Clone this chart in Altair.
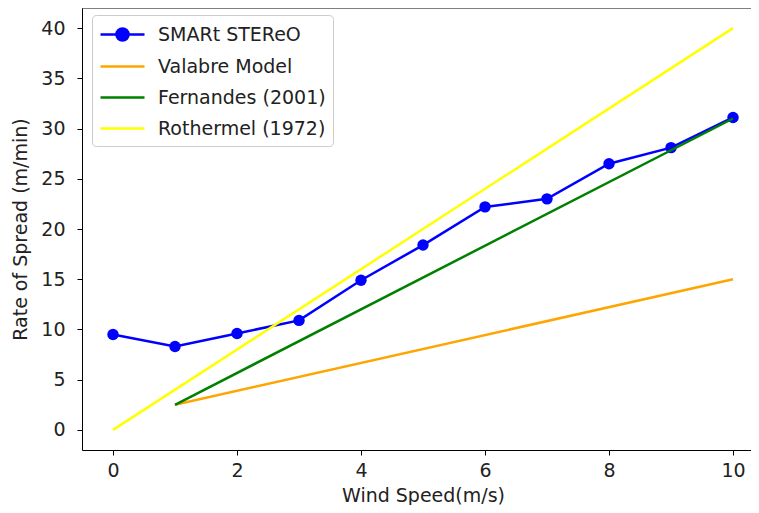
import altair as alt
import pandas as pd

# ---- data ----
wind_speed = [0, 1, 2, 3, 4, 5, 6, 7, 8, 9, 10]
smart_stereo = [9.5, 8.3, 9.6, 10.9, 14.9, 18.4, 22.2, 23.0, 26.5, 28.1, 31.1]

valabre_x = [1, 10]
valabre_y = [2.5, 15.0]

fernandes_x = [1, 10]
fernandes_y = [2.5, 31.0]

rothermel_x = [0, 10]
rothermel_y = [0.0, 40.0]

series_names = ["SMARt STEReO", "Valabre Model", "Fernandes (2001)", "Rothermel (1972)"]
series_colors = ["#0000ff", "#ffa500", "#008000", "#ffff00"]

x_ticks = [0, 2, 4, 6, 8, 10]
y_ticks = [0, 5, 10, 15, 20, 25, 30, 35, 40]

# ---- tables ----
smart_df = pd.DataFrame({"x": wind_speed, "y": smart_stereo, "series": series_names[0]})
other_df = pd.concat([
    pd.DataFrame({"x": valabre_x, "y": valabre_y, "series": series_names[1]}),
    pd.DataFrame({"x": fernandes_x, "y": fernandes_y, "series": series_names[2]}),
    pd.DataFrame({"x": rothermel_x, "y": rothermel_y, "series": series_names[3]}),
], ignore_index=True)

FONT = "DejaVu Sans"
FS = 19

x_enc = alt.X("x:Q",
              scale=alt.Scale(domain=[-0.5, 10.29], nice=False, zero=False),
              axis=alt.Axis(values=x_ticks, title="Wind Speed(m/s)", titleX=341))
y_enc = alt.Y("y:Q",
              scale=alt.Scale(domain=[-2, 42], nice=False, zero=False),
              axis=alt.Axis(values=y_ticks, title="Rate of Spread (m/min)"))

line_path = "M-1,0L3,0"
marker_path = "M-1,0L3,0M0.45,0A0.55,0.55,0,1,1,1.55,0A0.55,0.55,0,1,1,0.45,0"
first = series_names[0]

legend = alt.Legend(
    title=None,
    orient="none",
    legendX=10,
    legendY=7,
    symbolType={"expr": f"datum.label === '{first}' ? '{marker_path}' : '{line_path}'"},
    symbolFillColor={"expr": f"datum.label === '{first}' ? '#0000ff' : 'transparent'"},
    symbolSize=484,
    symbolStrokeWidth=2.5,
    labelOffset=34,
    labelLimit=400,
    labelFont=FONT,
    labelFontSize=FS,
    labelColor="#222222",
    rowPadding=8,
    padding=7,
    fillColor="white",
    strokeColor="#cccccc",
    cornerRadius=4,
)

color_enc = alt.Color("series:N",
                      scale=alt.Scale(domain=series_names, range=series_colors),
                      legend=legend)

smart_line = alt.Chart(smart_df).mark_line(strokeWidth=2.5).encode(x=x_enc, y=y_enc, color=color_enc)
smart_pts = alt.Chart(smart_df).mark_point(filled=True, size=130, opacity=1, shape="circle").encode(
    x=x_enc, y=y_enc, color=color_enc)
other_lines = alt.Chart(other_df).mark_line(strokeWidth=2.5).encode(
    x=x_enc, y=y_enc, color=color_enc, detail="series:N")

top_spine = alt.Chart(pd.DataFrame({"t": [42]})).mark_rule(color="black", strokeWidth=1).encode(
    y=alt.Y("t:Q"))

chart = alt.layer(smart_line, smart_pts, other_lines, top_spine).properties(
    width=669,
    height=442,
    autosize=alt.AutoSizeParams(type="none"),
    padding={"left": 74, "top": 0, "right": 0, "bottom": 55},
).configure_view(strokeWidth=0).configure_axis(
    grid=False,
    domainColor="black",
    domainWidth=1,
    tickColor="black",
    tickSize=5,
    tickWidth=1,
    labelFont=FONT,
    labelFontSize=FS,
    labelColor="#222222",
    titleFont=FONT,
    titleFontSize=FS,
    titleFontWeight="normal",
    titleColor="#222222",
).configure_axisX(
    labelPadding=6,
    titlePadding=6,
).configure_axisY(
    labelPadding=12,
    titlePadding=10,
)

chart.save("out.html", embed_options={"renderer": "svg", "actions": False})
